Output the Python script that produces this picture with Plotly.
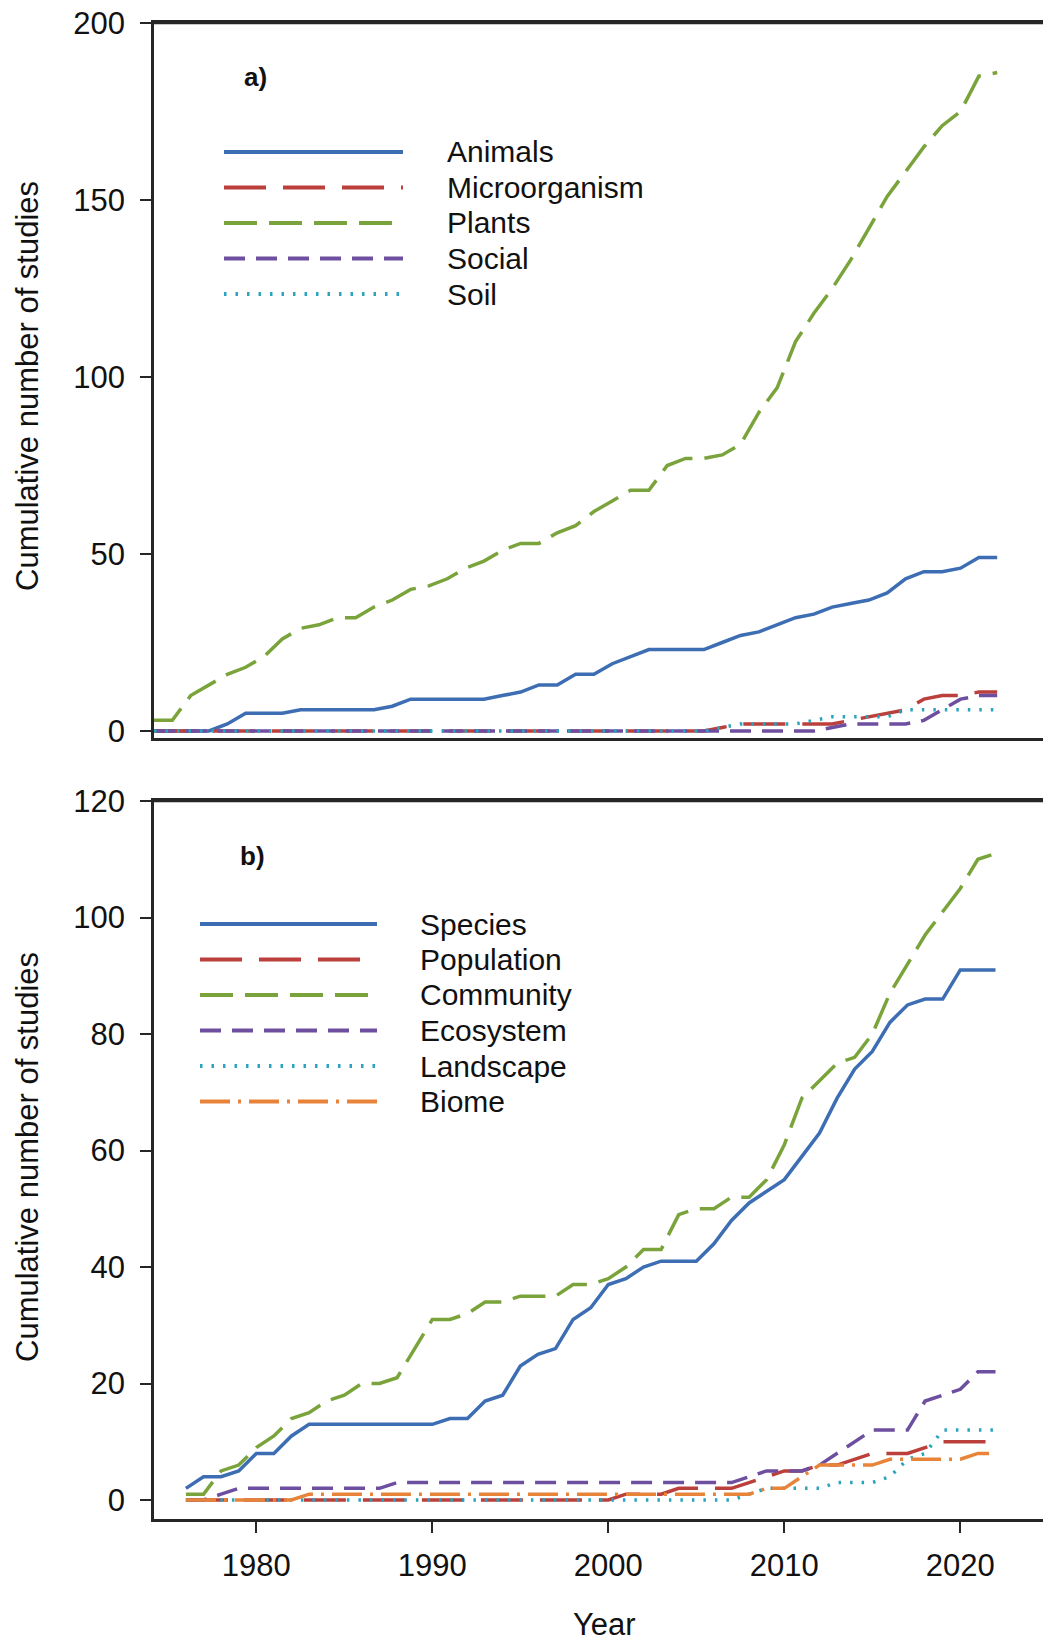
import plotly.graph_objects as go

# ---------------- data ----------------
years = list(range(1976, 2023))

# panel a) taxonomic group
animals = [0, 0, 0, 0, 2, 5, 5, 5, 6, 6, 6, 6, 6, 7, 9, 9, 9, 9, 9, 10, 11, 13, 13, 16,
           16, 19, 21, 23, 23, 23, 23, 25, 27, 28, 30, 32, 33, 35, 36, 37, 39, 43, 45, 45,
           46, 49, 49]
microorganism = [0] * 31 + [1, 2, 2, 2, 2, 2, 2, 3, 4, 5, 6, 9, 10, 10, 11, 11]
plants = [3, 3, 10, 13, 16, 18, 21, 26, 29, 30, 32, 32, 35, 37, 40, 41, 43, 46, 48, 51,
          53, 53, 56, 58, 62, 65, 68, 68, 75, 77, 77, 78, 81, 90, 97, 110, 118, 125, 133,
          142, 151, 158, 165, 171, 175, 185, 186]
social = [0] * 37 + [1, 2, 2, 2, 2, 3, 6, 9, 10, 10]
soil = [0] * 31 + [1, 2, 2, 2, 2, 3, 4, 4, 4, 4, 6, 6, 6, 6, 6, 6]

# panel b) level of organisation
species = [2, 4, 4, 5, 8, 8, 11, 13, 13, 13, 13, 13, 13, 13, 13, 14, 14, 17, 18, 23, 25,
           26, 31, 33, 37, 38, 40, 41, 41, 41, 44, 48, 51, 53, 55, 59, 63, 69, 74, 77, 82,
           85, 86, 86, 91, 91, 91]
population = [0] * 25 + [1, 1, 1, 2, 2, 2, 2, 3, 4, 5, 5, 6, 6, 7, 8, 8, 8, 9, 10, 10, 10, 10]
community = [1, 1, 5, 6, 9, 11, 14, 15, 17, 18, 20, 20, 21, 26, 31, 31, 32, 34, 34, 35,
             35, 35, 37, 37, 38, 40, 43, 43, 49, 50, 50, 52, 52, 55, 61, 69, 72, 75, 76,
             80, 87, 92, 97, 101, 105, 110, 111]
ecosystem = [0, 0, 1] + [2] * 9 + [3] * 20 + [4, 5, 5, 5, 6, 8, 10, 12, 12, 12, 17, 18, 19, 22, 22]
landscape = [0] * 32 + [1, 2, 2, 2, 2, 3, 3, 3, 4, 7, 8, 12, 12, 12, 12]
biome = [0] * 7 + [1] * 26 + [2, 2, 4, 6, 6, 6, 6, 7, 7, 7, 7, 7, 8, 8]

labels_a = ["Animals", "Microorganism", "Plants", "Social", "Soil"]
labels_b = ["Species", "Population", "Community", "Ecosystem", "Landscape", "Biome"]
x_ticks = [1980, 1990, 2000, 2010, 2020]
ya_ticks = [0, 50, 100, 150, 200]
yb_ticks = [0, 20, 40, 60, 80, 100, 120]

# ---------------- styles ----------------
BLUE, RED, GREEN, PURPLE, TEAL, ORANGE = "#3d6db3", "#bb3f3b", "#7aa43b", "#6e4f9f", "#2ba3bd", "#e8843a"
D_SOLID = "solid"
D_LONG = "42px,17px"
D_MED = "33px,12px"
D_SHORT = "21px,11px"
D_DOT = "2.5px,9px"
D_DASHDOT = "30px,8px,3px,8px"

style_a = [(BLUE, D_SOLID), (RED, D_LONG), (GREEN, D_MED), (PURPLE, D_SHORT), (TEAL, D_DOT)]
style_b = [(BLUE, D_SOLID), (RED, D_LONG), (GREEN, D_MED), (PURPLE, D_SHORT), (TEAL, D_DOT),
           (ORANGE, D_DASHDOT)]

W, H = 1043, 1641
# plot area in page pixels
P_L, P_R, P_T, P_B = 154, 1043, 23, 1519
L, T, R, B = P_L, P_T, W - P_R, H - P_B
PW, PH = P_R - P_L, P_B - P_T


def px(xp):
    return (xp - P_L) / PW


def py(yp):
    return (P_B - yp) / PH


SANS = "Liberation Sans, Arial, sans-serif"
AXC = "#262626"

fig = go.Figure()

series_a = [animals, microorganism, plants, social, soil]
series_b = [species, population, community, ecosystem, landscape, biome]

for name, vals, (col, dash) in zip(labels_a, series_a, style_a):
    fig.add_trace(go.Scatter(x=years, y=vals, mode="lines", name=name,
                             line=dict(color=col, width=3.5, dash=dash),
                             xaxis="x", yaxis="y", showlegend=False))
for name, vals, (col, dash) in zip(labels_b, series_b, style_b):
    fig.add_trace(go.Scatter(x=years, y=vals, mode="lines", name=name,
                             line=dict(color=col, width=3.5, dash=dash),
                             xaxis="x2", yaxis="y2", showlegend=False))

top_dom = [py(738), 1.0]
bot_dom = [0.0, py(801)]

axis_common = dict(showline=True, linecolor=AXC, linewidth=2.6, showgrid=False,
                   zeroline=False)
ytick_common = dict(ticks="outside", ticklen=11, tickwidth=2.4, tickcolor=AXC,
                    tickfont=dict(family=SANS, size=31, color="#111"),
                    ticklabelstandoff=9, ticklabeloverflow="allow")

fig.update_layout(
    width=W, height=H,
    margin=dict(l=L, r=R, t=T, b=B, pad=0),
    paper_bgcolor="white", plot_bgcolor="white",
    xaxis=dict(domain=[0, 1], anchor="y", range=[1976, 1976 + PW / 18.33],
               mirror=True, ticks="", showticklabels=False, **axis_common),
    yaxis=dict(domain=top_dom, anchor="x", range=[-1.98, 200.01], tickvals=ya_ticks,
               **ytick_common, **axis_common),
    xaxis2=dict(domain=[0, 1], anchor="y2",
                range=[1980 - (256.3 - P_L) / 17.6, 1980 + (P_R - 256.3) / 17.6],
                mirror=True, tickvals=x_ticks, ticks="outside", ticklen=11,
                tickwidth=2.4, tickcolor=AXC,
                tickfont=dict(family=SANS, size=31, color="#111"),
                ticklabelstandoff=6, ticklabeloverflow="allow", **axis_common),
    yaxis2=dict(domain=bot_dom, anchor="x2", range=[-3.26, 120.01], tickvals=yb_ticks,
                **ytick_common, **axis_common),
)

ann = []
shapes = []

# explicit top borders of both panels (box closed on top, open on the right)
for ytop in (1.0, bot_dom[1]):
    shapes.append(dict(type="line", xref="paper", yref="paper", x0=0, x1=1,
                       y0=ytop, y1=ytop, line=dict(color=AXC, width=2.6)))

# axis titles
for yc in (386, 1157):
    ann.append(dict(text="Cumulative number of studies", x=px(27), y=py(yc),
                    xref="paper", yref="paper", showarrow=False, textangle=-90,
                    xanchor="center", yanchor="middle",
                    font=dict(family=SANS, size=31, color="#111")))
ann.append(dict(text="Year", x=px(604), y=py(1624), xref="paper", yref="paper",
                showarrow=False, xanchor="center", yanchor="middle",
                font=dict(family=SANS, size=31, color="#111")))

# panel letters
ann.append(dict(text="<b>a)</b>", x=px(255), y=py(77), xref="paper", yref="paper",
                showarrow=False, xanchor="center", yanchor="middle",
                font=dict(family=SANS, size=26, color="#111")))
ann.append(dict(text="<b>b)</b>", x=px(252), y=py(856), xref="paper", yref="paper",
                showarrow=False, xanchor="center", yanchor="middle",
                font=dict(family=SANS, size=26, color="#111")))


# legends
def legend(labels, styles, x0, x1, xt, y0, dy):
    for i, (lab, (col, dash)) in enumerate(zip(labels, styles)):
        yy = y0 + i * dy
        shapes.append(dict(type="line", xref="paper", yref="paper",
                           x0=px(x0), x1=px(x1), y0=py(yy), y1=py(yy),
                           line=dict(color=col, width=3.8, dash=dash)))
        ann.append(dict(text=lab, x=px(xt), y=py(yy), xref="paper", yref="paper",
                        showarrow=False, xanchor="left", yanchor="middle",
                        font=dict(family=SANS, size=30, color="#111")))


legend(labels_a, style_a, 224, 403, 445, 152, 35.5)
legend(labels_b, style_b, 200, 377, 418, 924, 35.5)

fig.update_layout(annotations=ann, shapes=shapes)
fig.write_html(
    "out.html",
    config={"displayModeBar": False},
    post_script="document.body.style.margin='0px';document.body.style.overflow='hidden';",
)
